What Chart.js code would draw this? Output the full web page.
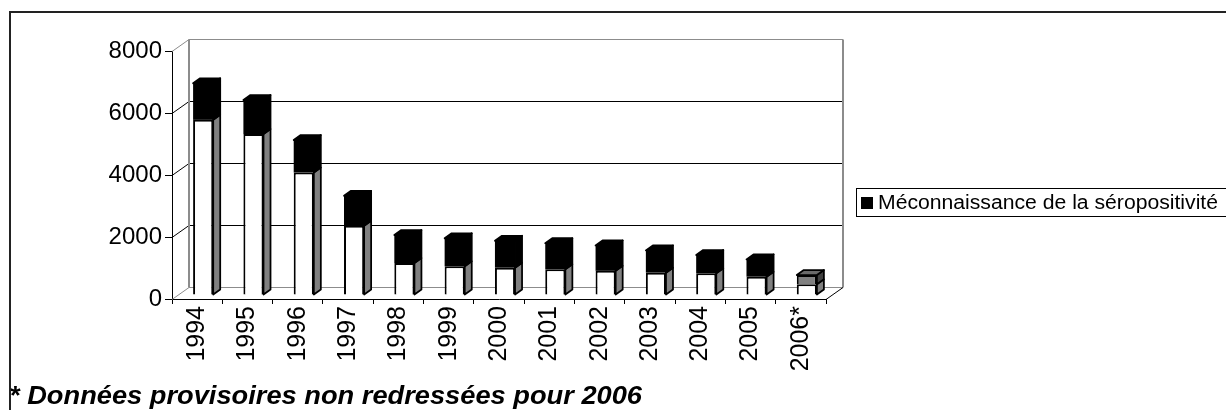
<!DOCTYPE html>
<html>
<head>
<meta charset="utf-8">
<script src="https://cdn.jsdelivr.net/npm/chart.js@4.4.0/dist/chart.umd.min.js"></script>
<style>
  body { margin: 0; background: #fff; }
  #wrap { width: 1226px; height: 410px; position: relative; }
</style>
</head>
<body>
<div id="wrap"><canvas id="myChart"></canvas></div>
<script>
const years = ['1994', '1995', '1996', '1997', '1998', '1999', '2000', '2001', '2002', '2003', '2004', '2005', '2006*'];
const connaissance = [5650, 5190, 3950, 2230, 1030, 925, 880, 830, 780, 720, 700, 590, 345];
const meconnaissance = [1180, 1100, 1050, 970, 905, 905, 870, 840, 820, 720, 590, 560, 300];
const yTicks = [0, 2000, 4000, 6000, 8000];
const legendLabel = 'Méconnaissance de la séropositivité';
const footnote = '* Données provisoires non redressées pour 2006';

const ctx = document.getElementById('myChart');
const FONT = '"Liberation Sans", Arial, sans-serif';

const wall = { dx: 17, dy: 12 };   // depth of the back wall
const shift = { dx: 6, dy: 4 };    // bars sit a bit behind the front plane
const box = { dx: 7, dy: 5 };      // depth of each bar

// grey for the last (provisional) year
const last = years.length - 1;
const topColors = meconnaissance.map((v, i) => i === last ? '#808080' : '#000000');
const topBorders = meconnaissance.map((v, i) => i === last ? 2 : 0);

function shade(c, part) {
  if (c === '#ffffff') return part === 'side' ? '#808080' : '#c0c0c0';
  if (c === '#808080') return part === 'side' ? '#404040' : '#6a6a6a';
  return '#000000';
}

const threeD = {
  id: 'threeD',
  beforeDatasetsDraw(chart) {
    const c = chart.ctx;
    const { left, right, bottom } = chart.chartArea;
    const y = chart.scales.y;
    c.save();
    c.lineWidth = 1;
    // gridlines on back wall + left wall diagonals
    yTicks.forEach(v => {
      const py = Math.round(y.getPixelForValue(v)) + 0.5;
      const edge = v === yTicks[0] || v === yTicks[yTicks.length - 1];
      c.strokeStyle = edge ? '#8c8c8c' : '#000';
      c.beginPath();
      c.moveTo(left + wall.dx, py - wall.dy);
      c.lineTo(right + wall.dx, py - wall.dy);
      c.stroke();
      c.beginPath();
      c.moveTo(left, py);
      c.lineTo(left + wall.dx, py - wall.dy);
      c.stroke();
    });
    // wall edges
    const t = Math.round(y.getPixelForValue(yTicks[yTicks.length - 1])) + 0.5 - wall.dy;
    const b = Math.round(y.getPixelForValue(0)) + 0.5 - wall.dy;
    c.strokeStyle = '#8c8c8c';
    c.lineWidth = 2;
    c.beginPath();
    c.moveTo(left + wall.dx, t); c.lineTo(left + wall.dx, b);
    c.moveTo(right + wall.dx, t); c.lineTo(right + wall.dx, b);
    c.stroke();
    c.lineWidth = 1;
    c.strokeStyle = '#000';
    c.beginPath();
    c.moveTo(right, bottom + 0.5);
    c.lineTo(right + wall.dx, bottom + 0.5 - wall.dy);
    c.stroke();
    c.restore();

    c.save();
    c.translate(shift.dx, -shift.dy);
  },
  afterDatasetsDraw(chart) {
    const c = chart.ctx;
    const n = chart.data.datasets.length;
    for (let d = 0; d < n; d++) {
      const meta = chart.getDatasetMeta(d);
      const ds = chart.data.datasets[d];
      meta.data.forEach((bar, i) => {
        const col = Array.isArray(ds.backgroundColor) ? ds.backgroundColor[i] : ds.backgroundColor;
        const l = bar.x - bar.width / 2, r = bar.x + bar.width / 2;
        const top = Math.min(bar.y, bar.base), bot = Math.max(bar.y, bar.base);
        c.lineWidth = 1.75;
        c.strokeStyle = '#000';
        c.lineJoin = 'round';
        // side face
        c.fillStyle = shade(col, 'side');
        c.beginPath();
        c.moveTo(r, top); c.lineTo(r + box.dx, top - box.dy);
        c.lineTo(r + box.dx, bot - box.dy); c.lineTo(r, bot);
        c.closePath(); c.fill(); c.stroke();
        // top face only on the highest segment
        if (d === n - 1) {
          c.fillStyle = shade(col, 'top');
          c.beginPath();
          c.moveTo(l, top); c.lineTo(l + box.dx, top - box.dy);
          c.lineTo(r + box.dx, top - box.dy); c.lineTo(r, top);
          c.closePath(); c.fill(); c.stroke();
        }
      });
    }
    c.restore();
  },
  afterDraw(chart) {
    const c = chart.ctx;
    c.save();
    // legend box
    c.strokeStyle = '#000';
    c.lineWidth = 1;
    c.strokeRect(856.5, 188.5, 400, 28);
    c.fillStyle = '#000';
    c.fillRect(861, 197, 12, 12);
    c.font = '20px ' + FONT;
    c.textBaseline = 'middle';
    let w = c.measureText(legendLabel).width;
    c.save();
    c.translate(878, 203);
    c.scale(340 / w, 1);
    c.fillText(legendLabel, 0, 0);
    c.restore();
    // footnote
    c.font = 'italic bold 25px ' + FONT;
    c.textBaseline = 'alphabetic';
    w = c.measureText(footnote).width;
    c.save();
    c.translate(9, 404);
    c.scale(633 / w, 1);
    c.fillText(footnote, 0, 0);
    c.restore();
    // outer frame
    c.lineWidth = 2;
    c.strokeStyle = '#222';
    c.strokeRect(10, 12, 1400, 600);
    c.restore();
  }
};

new Chart(ctx, {
  type: 'bar',
  data: {
    labels: years,
    datasets: [{
      label: 'Connaissance de la séropositivité',
      data: connaissance,
      backgroundColor: '#ffffff',
      borderColor: '#000',
      borderWidth: 2
    }, {
      label: legendLabel,
      data: meconnaissance,
      backgroundColor: topColors,
      borderColor: '#000',
      borderWidth: topBorders
    }]
  },
  options: {
    responsive: true,
    maintainAspectRatio: false,
    animation: false,
    categoryPercentage: 1,
    barPercentage: 0.4,
    layout: { padding: { left: 52, top: 51, right: 400, bottom: 31 } },
    plugins: {
      legend: { display: false },
      tooltip: { enabled: false }
    },
    scales: {
      x: {
        stacked: true,
        afterFit: s => { s.height = 80; },
        grid: { drawOnChartArea: false, tickLength: 5, color: '#000' },
        border: { color: '#000', width: 1 },
        ticks: {
          color: '#000', maxRotation: 90, minRotation: 90, padding: 2,
          font: { size: 25, family: FONT }
        }
      },
      y: {
        stacked: true,
        min: 0,
        max: 8000,
        afterFit: s => { s.width = 120; },
        afterBuildTicks: s => { s.ticks = yTicks.map(v => ({ value: v })); },
        grid: { drawOnChartArea: false, tickLength: 7, color: '#000' },
        border: { color: '#000', width: 1 },
        ticks: {
          color: '#000', padding: 3,
          callback: v => String(v),
          font: { size: 24, family: FONT }
        }
      }
    }
  },
  plugins: [threeD]
});
</script>
</body>
</html>
